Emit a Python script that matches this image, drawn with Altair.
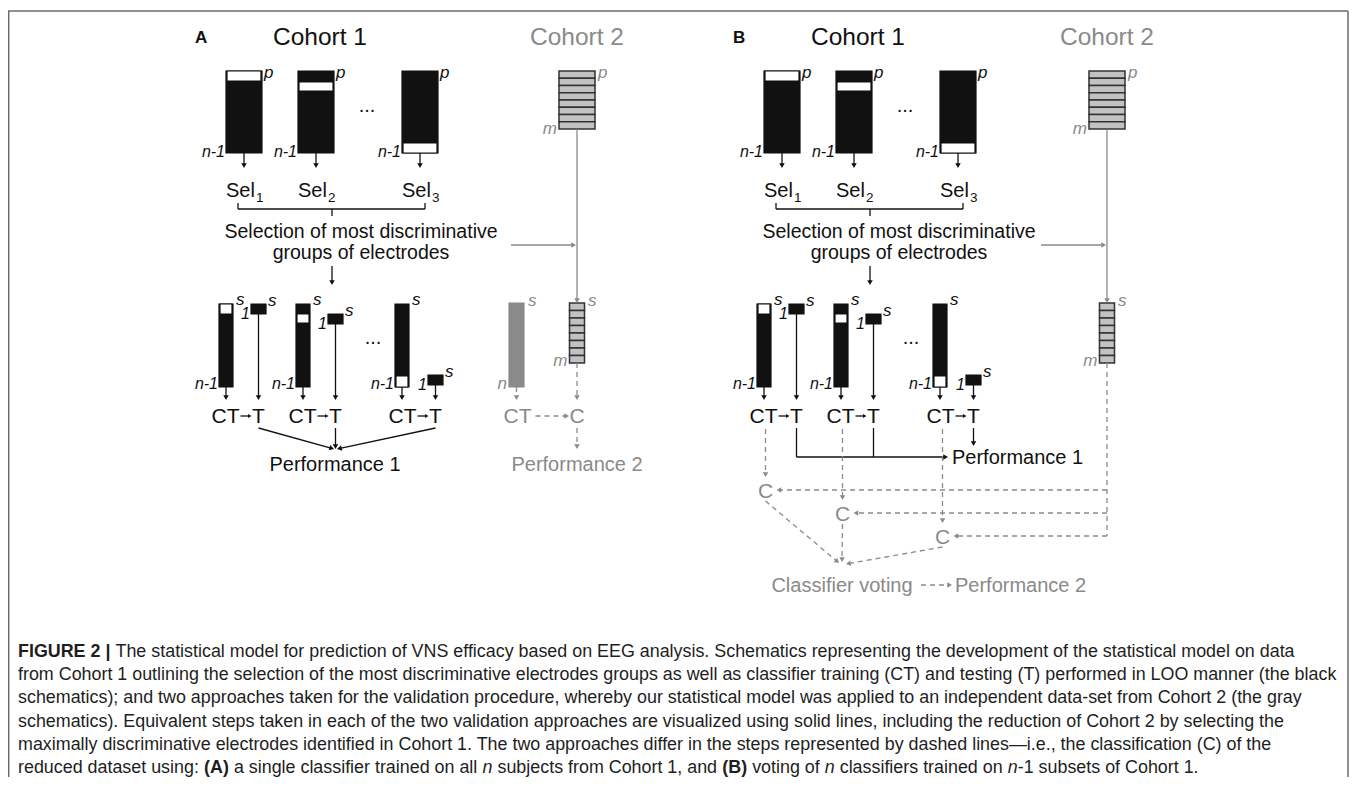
import math
import altair as alt
import pandas as pd

# ---------------- canvas ----------------
WIDTH, HEIGHT = 1341, 769
XDOM = [8, 8 + WIDTH]
YDOM = [8, 8 + HEIGHT]
FONT = "Liberation Sans"

BLACK = "#111111"
GRAY = "#8a8a8a"
STACK_FILL = "#c2c2c2"
STACK_EDGE = "#333333"
FRAME = "#6b6b6b"
CAPTION_COLOR = "#1e1e1e"

# ---------------- schematic values ----------------
PANEL_LETTERS = ["A", "B"]
PANEL_DX = [0, 538]
COHORT2_X = [577, 1107]

TOP_BAR_LEFT = [226, 298, 402]
TOP_BAR_WIDTH = 36
TOP_BAR_Y = [71, 153]
TOP_BAND_Y = [[71, 81], [82, 91], [143, 153]]

LOW_BAR_LEFT = [219, 296, 395]
LOW_BAR_WIDTH = 14
LOW_BAR_Y = [304, 387]
LOW_BAND_Y = [[304, 314], [314, 323], [376, 387]]
TEST_BOX_LEFT = [251, 328, 428]
TEST_BOX_TOP = [304, 314, 375]
TEST_BOX_SIZE = [15, 10]

STACK_ROWS = 8
TOP_STACK_Y = [71, 129]
TOP_STACK_WIDTH = 36
LOW_STACK_Y = [303, 363]
LOW_STACK_WIDTH = 15

GRAY_BAR_X = [509, 524]
GRAY_BAR_Y = [303, 387]

SEL_SUBSCRIPTS = ["1", "2", "3"]
VOTE_C_Y = [490, 513, 536]
VOTE_TARGETS = [[839, 563], [842, 562], [846, 564]]

CAPTION_LEFT = 18
CAPTION_RIGHT_L2 = 1338
CAPTION_BASELINES = [657, 680, 703, 727, 750, 773]
CAPTION_LINES = [
    [("FIGURE 2 | ", "bold", "normal"),
     ("The statistical model for prediction of VNS efficacy based on EEG analysis. Schematics representing the development of the statistical model on data", "normal", "normal")],
    [("from Cohort 1 outlining the selection of the most discriminative electrodes groups as well as classifier training (CT) and testing (T) performed in LOO manner (the black", "normal", "normal")],
    [("schematics); and two approaches taken for the validation procedure, whereby our statistical model was applied to an independent data-set from Cohort 2 (the gray", "normal", "normal")],
    [("schematics). Equivalent steps taken in each of the two validation approaches are visualized using solid lines, including the reduction of Cohort 2 by selecting the", "normal", "normal")],
    [("maximally discriminative electrodes identified in Cohort 1. The two approaches differ in the steps represented by dashed lines\u2014i.e., the classification (C) of the", "normal", "normal")],
    [("reduced dataset using: ", "normal", "normal"), ("(A)", "bold", "normal"),
     (" a single classifier trained on all ", "normal", "normal"), ("n", "normal", "italic"),
     (" subjects from Cohort 1, and ", "normal", "normal"), ("(B)", "bold", "normal"),
     (" voting of ", "normal", "normal"), ("n", "normal", "italic"),
     (" classifiers trained on ", "normal", "normal"), ("n", "normal", "italic"),
     ("-1 subsets of Cohort 1.", "normal", "normal")],
]

# Arial / Liberation Sans advance widths (1/1000 em) for laying out caption runs
REG_W = {' ': 278, '!': 278, '"': 355, '#': 556, '$': 556, '%': 889, '&': 667, "'": 191, '(': 333, ')': 333,
         '*': 389, '+': 584, ',': 278, '-': 333, '.': 278, '/': 278, ':': 278, ';': 278, '?': 556,
         'A': 667, 'B': 667, 'C': 722, 'D': 722, 'E': 667, 'F': 611, 'G': 778, 'H': 722, 'I': 278, 'J': 500,
         'K': 667, 'L': 556, 'M': 833, 'N': 722, 'O': 778, 'P': 667, 'Q': 778, 'R': 722, 'S': 667, 'T': 611,
         'U': 722, 'V': 667, 'W': 944, 'X': 667, 'Y': 667, 'Z': 611,
         'a': 556, 'b': 556, 'c': 500, 'd': 556, 'e': 556, 'f': 278, 'g': 556, 'h': 556, 'i': 222, 'j': 222,
         'k': 500, 'l': 222, 'm': 833, 'n': 556, 'o': 556, 'p': 556, 'q': 556, 'r': 333, 's': 500, 't': 278,
         'u': 556, 'v': 500, 'w': 722, 'x': 500, 'y': 500, 'z': 500, '|': 260, '\u2014': 1000}
BOLD_W = {'A': 722, 'B': 722, 'F': 611, 'I': 278, 'G': 778, 'U': 722, 'R': 722, 'E': 667, '|': 280,
          '(': 333, ')': 333, ' ': 278, '2': 556}


def em_width(s, weight):
    tot = 0
    for ch in s:
        if weight == "bold" and ch in BOLD_W:
            tot += BOLD_W[ch]
        elif ch.isdigit():
            tot += 556
        else:
            tot += REG_W.get(ch, 556)
    return tot / 1000.0


# ---------------- builders ----------------
rects, solid, dashed, heads, texts = [], [], [], [], []


def rect(x1, x2, y1, y2, fill, stroke, sw=1.2):
    rects.append(dict(x=x1, x2=x2, y=y1, y2=y2, fill=fill, stroke=stroke, sw=sw))


def line(x1, y1, x2, y2, color=BLACK, dash=False, sw=1.3, head=False, hs=30):
    ex, ey = x2, y2
    if head:
        dx, dy = x2 - x1, y2 - y1
        L = math.hypot(dx, dy)
        ux, uy = dx / L, dy / L
        off = math.sqrt(hs) / math.sqrt(3)
        ang = (math.degrees(math.atan2(ux, -uy)) + 360) % 360
        heads.append(dict(x=x2 - ux * off, y=y2 - uy * off, angle=ang, color=color, size=hs))
        ex, ey = x2 - ux * off, y2 - uy * off
    (dashed if dash else solid).append(dict(x=x1, y=y1, x2=ex, y2=ey, color=color, sw=sw))


def txt(x, y, s, size, color=BLACK, align="left", style="normal", weight="normal"):
    texts.append(dict(x=x, y=y, text=s, size=size, color=color, align=align, style=style, weight=weight))


for i, letter in enumerate(PANEL_LETTERS):
    dx = PANEL_DX[i]
    c2 = COHORT2_X[i]
    txt(195 + dx, 43, letter, 17, weight="bold")
    txt(320 + dx, 45, "Cohort 1", 24.5, align="center")
    txt(c2, 45, "Cohort 2", 24.5, GRAY, align="center")
    # top matrices
    for k in range(3):
        L = TOP_BAR_LEFT[k] + dx
        cx = L + TOP_BAR_WIDTH / 2
        rect(L, L + TOP_BAR_WIDTH, TOP_BAR_Y[0], TOP_BAR_Y[1], BLACK, BLACK)
        rect(L + 1, L + TOP_BAR_WIDTH - 1, TOP_BAND_Y[k][0], TOP_BAND_Y[k][1], "#ffffff", BLACK)
        txt(L + TOP_BAR_WIDTH + 2, 78, "p", 17, style="italic")
        txt(L - 1, 157, "n-1", 16, align="right", style="italic")
        line(cx, TOP_BAR_Y[1], cx, 168, head=True)
        txt(cx - 18, 197, "Sel", 20)
        txt(cx + 12, 202, SEL_SUBSCRIPTS[k], 13.5)
    txt(367 + dx, 112, "...", 20, align="center")
    # brace
    line(238 + dx, 209, 425 + dx, 209)
    line(238 + dx, 203, 238 + dx, 209)
    line(425 + dx, 203, 425 + dx, 209)
    line(332 + dx, 209, 332 + dx, 216)
    txt(361 + dx, 238, "Selection of most discriminative", 19.5, align="center")
    txt(361 + dx, 259, "groups of electrodes", 19.5, align="center")
    line(332 + dx, 266, 332 + dx, 285, head=True)
    # cohort 2 full stack
    h = (TOP_STACK_Y[1] - TOP_STACK_Y[0]) / STACK_ROWS
    for r in range(STACK_ROWS):
        rect(c2 - TOP_STACK_WIDTH / 2, c2 + TOP_STACK_WIDTH / 2,
             TOP_STACK_Y[0] + r * h, TOP_STACK_Y[0] + (r + 1) * h, STACK_FILL, STACK_EDGE, 1.5)
    txt(c2 + 21, 78, "p", 17, GRAY, style="italic")
    txt(c2 - 20, 134, "m", 17, GRAY, align="right", style="italic")
    line(c2, TOP_STACK_Y[1], c2, 303, GRAY, head=True)
    line(c2 - 66, 245, c2 - 1, 245, GRAY, head=True)
    # reduced matrices
    for k in range(3):
        L = LOW_BAR_LEFT[k] + dx
        lc = L + LOW_BAR_WIDTH / 2
        rect(L, L + LOW_BAR_WIDTH, LOW_BAR_Y[0], LOW_BAR_Y[1], BLACK, BLACK)
        rect(L + 1, L + LOW_BAR_WIDTH - 1, LOW_BAND_Y[k][0], LOW_BAND_Y[k][1], "#ffffff", BLACK)
        txt(L + LOW_BAR_WIDTH + 3, 305, "s", 17, style="italic")
        txt(L - 1, 389, "n-1", 16, align="right", style="italic")
        line(lc, LOW_BAR_Y[1], lc, 400, head=True)
        tb = TEST_BOX_LEFT[k] + dx
        tt = TEST_BOX_TOP[k]
        t = tb + TEST_BOX_SIZE[0] / 2
        rect(tb, tb + TEST_BOX_SIZE[0], tt, tt + TEST_BOX_SIZE[1], BLACK, BLACK)
        txt(tb - 1, tt + 15, "1", 16, align="right", style="italic")
        txt(tb + TEST_BOX_SIZE[0] + 2, tt + 2, "s", 17, style="italic")
        line(t, tt + TEST_BOX_SIZE[1], t, 400, head=True)
        txt(t - 19, 423, "CT", 21, align="right")
        txt(t, 423, "T", 21, align="center")
        line(t - 18, 416, t - 7, 416, head=True, hs=16)
    txt(373 + dx, 344, "...", 20, align="center")
    h2 = (LOW_STACK_Y[1] - LOW_STACK_Y[0]) / STACK_ROWS
    for r in range(STACK_ROWS):
        rect(c2 - LOW_STACK_WIDTH / 2, c2 + LOW_STACK_WIDTH / 2,
             LOW_STACK_Y[0] + r * h2, LOW_STACK_Y[0] + (r + 1) * h2, STACK_FILL, STACK_EDGE, 1.5)
    txt(c2 + 11, 306, "s", 17, GRAY, style="italic")
    txt(c2 - 9.5, 366, "m", 17, GRAY, align="right", style="italic")

# ---- panel A specifics ----
tA = [TEST_BOX_LEFT[k] + PANEL_DX[0] + TEST_BOX_SIZE[0] / 2 for k in range(3)]
rect(GRAY_BAR_X[0], GRAY_BAR_X[1], GRAY_BAR_Y[0], GRAY_BAR_Y[1], GRAY, GRAY)
txt(GRAY_BAR_X[1] + 4, 306, "s", 17, GRAY, style="italic")
txt(GRAY_BAR_X[0] - 2, 389, "n", 17, GRAY, align="right", style="italic")
gcx = (GRAY_BAR_X[0] + GRAY_BAR_X[1]) / 2
c2a = COHORT2_X[0]
line(gcx, GRAY_BAR_Y[1], gcx, 400, GRAY, dash=True, head=True)
line(c2a, LOW_STACK_Y[1], c2a, 400, GRAY, dash=True, head=True)
txt(gcx + 15, 423, "CT", 21, GRAY, align="right")
line(gcx + 19, 416, c2a - 8, 416, GRAY, dash=True, head=True)
txt(c2a, 423, "C", 21, GRAY, align="center")
line(c2a, 428, c2a, 449, GRAY, dash=True, head=True)
txt(c2a, 471, "Performance 2", 20, GRAY, align="center")
line(tA[0], 428, 334, 449, head=True)
line(tA[1], 428, tA[1], 449, head=True)
line(tA[2], 428, 337, 449, head=True)
txt(335, 471, "Performance 1", 20, align="center")

# ---- panel B specifics ----
tB = [TEST_BOX_LEFT[k] + PANEL_DX[1] + TEST_BOX_SIZE[0] / 2 for k in range(3)]
c2b = COHORT2_X[1]
line(tB[0], 428, tB[0], 457)
line(tB[1], 428, tB[1], 457)
line(tB[0], 457, 948, 457, head=True)
line(tB[2], 428, tB[2], 446, head=True)
txt(952, 464, "Performance 1", 20)
for k in range(3):
    cx = tB[k] - 31
    cy = VOTE_C_Y[k]
    line(cx, 429, cx, cy - 13, GRAY, dash=True, head=True)
    txt(cx, cy + 7.5, "C", 21, GRAY, align="center")
    line(c2b, cy, cx + 11, cy, GRAY, dash=True, head=True)
    line(cx, cy + 11, VOTE_TARGETS[k][0], VOTE_TARGETS[k][1], GRAY, dash=True, head=True)
line(c2b, LOW_STACK_Y[1], c2b, VOTE_C_Y[2], GRAY, dash=True)
txt(842, 592, "Classifier voting", 20, GRAY, align="center")
line(921, 585, 952, 585, GRAY, dash=True, head=True)
txt(955, 592, "Performance 2", 20, GRAY)

# ---- frame ----
line(8, 11, 1348, 11, FRAME, sw=1.5)
line(8.7, 11, 8.7, 780, FRAME, sw=1.5)
line(1348, 11, 1348, 780, FRAME, sw=1.5)

# ---- caption (runs laid out with Arial metrics; leading spaces become offsets) ----
cap_fs = (CAPTION_RIGHT_L2 - CAPTION_LEFT) / sum(em_width(s, w) for s, w, _ in CAPTION_LINES[1])
for li, runs in enumerate(CAPTION_LINES):
    xpos = CAPTION_LEFT
    for s, w, st in runs:
        lead = len(s) - len(s.lstrip(" "))
        xpos += em_width(" " * lead, w) * cap_fs
        body = s.lstrip(" ")
        txt(xpos, CAPTION_BASELINES[li], body.rstrip(" "), cap_fs, CAPTION_COLOR, style=st, weight=w)
        xpos += em_width(body, w) * cap_fs

# ---------------- chart ----------------
XS = alt.Scale(domain=XDOM, nice=False, zero=False)
YS = alt.Scale(domain=YDOM, nice=False, zero=False, reverse=True)


def X(f="x"):
    return alt.X(f"{f}:Q", scale=XS, axis=None)


def Y(f="y"):
    return alt.Y(f"{f}:Q", scale=YS, axis=None)


layers = []
layers.append(alt.Chart(pd.DataFrame(rects)).mark_rect().encode(
    x=X(), x2=alt.X2("x2:Q"), y=Y(), y2=alt.Y2("y2:Q"),
    fill=alt.Fill("fill:N", scale=None), stroke=alt.Stroke("stroke:N", scale=None),
    strokeWidth=alt.StrokeWidth("sw:Q", scale=None)))
layers.append(alt.Chart(pd.DataFrame(solid)).mark_rule().encode(
    x=X(), x2=alt.X2("x2:Q"), y=Y(), y2=alt.Y2("y2:Q"),
    color=alt.Color("color:N", scale=None), strokeWidth=alt.StrokeWidth("sw:Q", scale=None)))
layers.append(alt.Chart(pd.DataFrame(dashed)).mark_rule(strokeDash=[5, 4]).encode(
    x=X(), x2=alt.X2("x2:Q"), y=Y(), y2=alt.Y2("y2:Q"),
    color=alt.Color("color:N", scale=None), strokeWidth=alt.StrokeWidth("sw:Q", scale=None)))
layers.append(alt.Chart(pd.DataFrame(heads)).mark_point(shape="triangle", filled=True, opacity=1).encode(
    x=X(), y=Y(), angle=alt.Angle("angle:Q", scale=None),
    color=alt.Color("color:N", scale=None), size=alt.Size("size:Q", scale=None)))

tdf = pd.DataFrame(texts)
for (al, st, wt), g in tdf.groupby(["align", "style", "weight"]):
    layers.append(alt.Chart(g.reset_index(drop=True)).mark_text(
        align=al, baseline="alphabetic", font=FONT, fontStyle=st, fontWeight=wt).encode(
        x=X(), y=Y(), text="text:N",
        size=alt.Size("size:Q", scale=None), color=alt.Color("color:N", scale=None)))

chart = alt.layer(*layers).properties(
    width=WIDTH, height=HEIGHT, padding=0, autosize="none", background="white"
).configure_view(stroke=None)

chart.save("out.html", embed_options={"renderer": "svg", "actions": False})
